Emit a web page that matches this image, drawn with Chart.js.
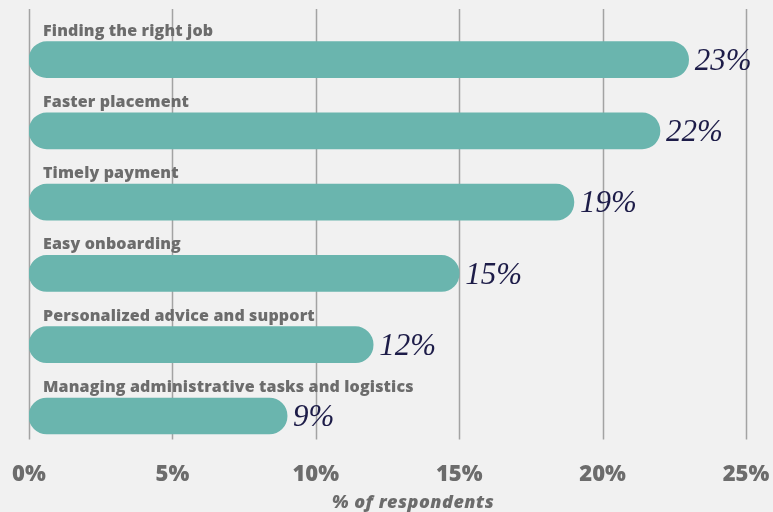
<!DOCTYPE html>
<html>
<head>
<meta charset="utf-8">
<script src="https://cdn.jsdelivr.net/npm/chart.js@4/dist/chart.umd.min.js"></script>
<style>
  html, body { margin: 0; padding: 0; background: #f1f1f1; }
  #wrap { width: 773px; height: 512px; }
</style>
</head>
<body>
<div id="wrap"><canvas id="chart" width="773" height="512"></canvas></div>
<script>
// Survey answers, ordered from most to least cited
const categories = [
  'Finding the right job',
  'Faster placement',
  'Timely payment',
  'Easy onboarding',
  'Personalized advice and support',
  'Managing administrative tasks and logistics'
];
const values = [23, 22, 19, 15, 12, 9];
const tickValues = [0, 5, 10, 15, 20, 25];
const axisTitle = '% of respondents';

const TEAL = '#6ab5ae';
const GREY_TEXT = '#6c6c6c';
const NAVY = '#1d1c48';
const GRID = '#a3a3a3';

// Vertical guide lines at each tick, reaching a little above the first bar label
const guideLines = {
  id: 'guideLines',
  beforeDatasetsDraw(chart) {
    const { ctx, chartArea, scales } = chart;
    const top = chartArea.top - 15;
    const bottom = chartArea.bottom - 12;
    ctx.save();
    ctx.strokeStyle = GRID;
    ctx.lineWidth = 1.5;
    tickValues.forEach(v => {
      const x = Math.round(scales.x.getPixelForValue(v)) + 0.5;
      ctx.beginPath();
      ctx.moveTo(x, top);
      ctx.lineTo(x, bottom);
      ctx.stroke();
    });
    ctx.restore();
  }
};

// Category names above each bar and the value to the right of it
const barLabels = {
  id: 'barLabels',
  afterDatasetsDraw(chart) {
    const { ctx, scales } = chart;
    const meta = chart.getDatasetMeta(0);
    ctx.save();
    meta.data.forEach((bar, i) => {
      const half = bar.height / 2;
      ctx.font = '800 16px "Open Sans", sans-serif';
      ctx.letterSpacing = '0.15px';
      ctx.fillStyle = GREY_TEXT;
      ctx.textAlign = 'left';
      ctx.textBaseline = 'alphabetic';
      ctx.fillText(categories[i], scales.x.getPixelForValue(0) + 14, bar.y - half - 6);

      ctx.font = 'italic 31px "Liberation Serif", "DejaVu Serif", serif';
      ctx.letterSpacing = '0px';
      ctx.fillStyle = NAVY;
      ctx.textBaseline = 'middle';
      ctx.fillText(values[i] + '%', bar.x + 6, bar.y + 2);
    });
    // axis title
    ctx.font = 'italic 800 18px "Open Sans", sans-serif';
    ctx.letterSpacing = '0.5px';
    ctx.fillStyle = GREY_TEXT;
    ctx.textAlign = 'center';
    ctx.textBaseline = 'middle';
    ctx.fillText(axisTitle, 413, 503);
    ctx.restore();
  }
};

new Chart(document.getElementById('chart'), {
  type: 'bar',
  data: {
    labels: categories,
    datasets: [{
      data: values,
      backgroundColor: TEAL,
      borderRadius: 18,
      borderSkipped: false,
      barThickness: 36
    }]
  },
  options: {
    indexAxis: 'y',
    responsive: false,
    devicePixelRatio: 1,
    animation: false,
    layout: { padding: { left: 29, right: 27, top: 24, bottom: 14 } },
    plugins: {
      legend: { display: false },
      tooltip: { enabled: false }
    },
    scales: {
      x: {
        min: 0,
        max: 25,
        grid: { display: false, drawTicks: false },
        border: { display: false },
        afterBuildTicks(scale) {
          scale.ticks = tickValues.map(v => ({ value: v }));
        },
        // the outer tick labels may overhang the plot; the layout padding covers them
        afterFit(scale) {
          scale.paddingLeft = 0;
          scale.paddingRight = 0;
        },
        ticks: {
          padding: 10,
          color: GREY_TEXT,
          font: { family: '"Open Sans", sans-serif', size: 22, weight: '800' },
          callback: v => v + '%'
        }
      },
      y: {
        display: false
      }
    }
  },
  plugins: [guideLines, barLabels]
});
</script>
</body>
</html>
